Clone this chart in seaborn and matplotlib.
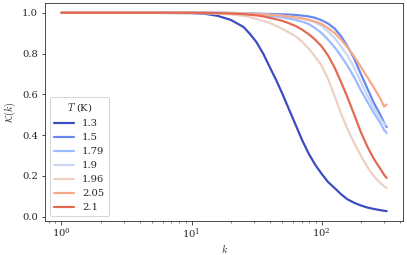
import numpy as np
import pandas as pd
import matplotlib
matplotlib.use("Agg")
import matplotlib.pyplot as plt
import seaborn as sns

# wavenumber grid (values read at fixed log10 positions)
k = [1.0, 3.16, 10.0, 12.6, 15.8, 20.0, 25.1, 28.2, 31.6, 35.5,
     39.8, 44.7, 50.1, 56.2, 63.1, 70.8, 79.4, 89.1, 100.0, 112.0,
     126.0, 141.0, 158.0, 178.0, 200.0, 224.0, 251.0, 282.0, 302.0, 316.0]

temps = ["1.3", "1.5", "1.79", "1.9", "1.96", "2.05", "2.1"]

K_13 = [1.0, 1.0, 0.998, 0.995, 0.985, 0.965, 0.93, 0.895, 0.855, 0.80,
        0.735, 0.67, 0.60, 0.525, 0.45, 0.375, 0.31, 0.255, 0.21, 0.17,
        0.14, 0.11, 0.085, 0.068, 0.055, 0.045, 0.038, 0.032, 0.029, 0.027]
K_15 = [1.0, 1.0, 1.0, 1.0, 1.0, 0.999, 0.998, 0.997, 0.996, 0.995,
        0.994, 0.993, 0.992, 0.991, 0.989, 0.986, 0.982, 0.975, 0.963, 0.947,
        0.922, 0.885, 0.835, 0.775, 0.70, 0.63, 0.56, 0.50, 0.46, 0.44]
K_179 = [1.0, 1.0, 1.0, 1.0, 0.999, 0.998, 0.995, 0.993, 0.99, 0.988,
         0.985, 0.981, 0.977, 0.971, 0.965, 0.956, 0.945, 0.925, 0.90, 0.868,
         0.83, 0.787, 0.74, 0.683, 0.62, 0.565, 0.51, 0.46, 0.425, 0.41]
K_19 = [1.0, 1.0, 1.0, 1.0, 1.0, 0.999, 0.997, 0.996, 0.994, 0.992,
        0.99, 0.988, 0.985, 0.982, 0.978, 0.972, 0.965, 0.952, 0.935, 0.908,
        0.875, 0.835, 0.79, 0.73, 0.66, 0.595, 0.535, 0.48, 0.455, 0.45]
K_196 = [1.0, 1.0, 0.999, 0.997, 0.995, 0.992, 0.985, 0.978, 0.97, 0.96,
         0.95, 0.936, 0.92, 0.903, 0.885, 0.858, 0.825, 0.785, 0.74, 0.675,
         0.59, 0.505, 0.43, 0.36, 0.30, 0.245, 0.20, 0.165, 0.15, 0.14]
K_205 = [1.0, 1.0, 1.0, 1.0, 0.999, 0.998, 0.996, 0.995, 0.993, 0.992,
         0.99, 0.988, 0.985, 0.981, 0.977, 0.972, 0.965, 0.957, 0.945, 0.925,
         0.90, 0.868, 0.83, 0.785, 0.735, 0.685, 0.635, 0.58, 0.54, 0.55]
K_21 = [1.0, 1.0, 1.0, 0.999, 0.998, 0.996, 0.993, 0.99, 0.987, 0.982,
        0.975, 0.968, 0.96, 0.948, 0.935, 0.917, 0.895, 0.868, 0.835, 0.79,
        0.73, 0.66, 0.585, 0.50, 0.415, 0.345, 0.285, 0.235, 0.205, 0.19]

series = [K_13, K_15, K_179, K_19, K_196, K_205, K_21]

df = pd.concat([pd.DataFrame({"k": k, "K": vals, "T": t})
                for t, vals in zip(temps, series)], ignore_index=True)

sns.set_style("ticks")
plt.rcParams["font.family"] = ["DejaVu Serif"]
plt.rcParams["mathtext.fontset"] = "cm"
plt.rcParams["font.size"] = 10

cmap = sns.color_palette("coolwarm", as_cmap=True)
colors = [cmap(i / 7) for i in range(7)]

fig, ax = plt.subplots(figsize=(407 / 72, 255 / 72), dpi=72)
sns.lineplot(data=df, x="k", y="K", hue="T", hue_order=temps,
             palette=colors, linewidth=2.2, ax=ax)
ax.set_xscale("log")
ax.set_xlabel("$k$", fontsize=10, labelpad=1)
ax.set_ylabel(r"$\mathcal{K}(k)$", fontsize=10)
ax.tick_params(labelsize=10)
ax.tick_params(axis="x", which="major", pad=2)
ax.legend(title="$T$ (K)", loc="lower left", fontsize=10, title_fontsize=10)

fig.subplots_adjust(left=0.111, right=0.99, top=0.989, bottom=0.133)
fig.savefig("out.png", dpi=72)
